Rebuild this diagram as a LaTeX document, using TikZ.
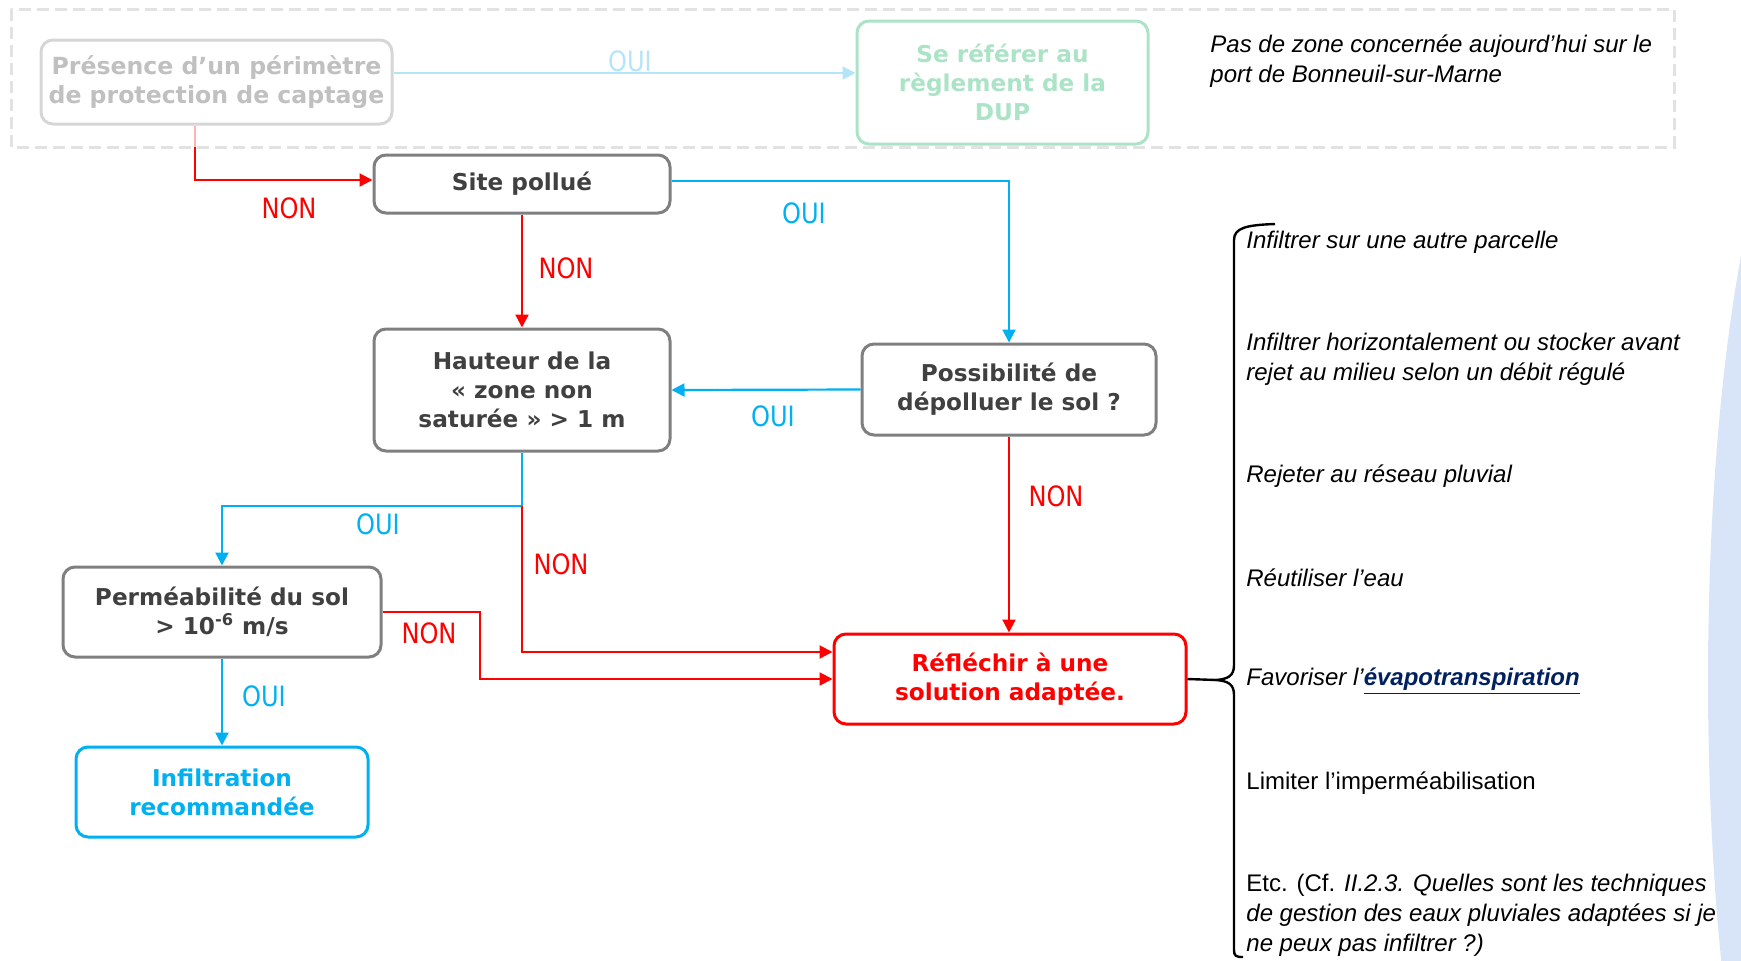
\documentclass[tikz,border=0pt]{standalone}
\usepackage{fontspec}
\setmainfont{Liberation Sans}
\newfontfamily\boxfont{DejaVu Sans}
\newfontfamily\lblfont[FakeStretch=0.86]{DejaVu Sans}
\usetikzlibrary{arrows.meta,calc}

\definecolor{boxgray}{HTML}{7F7F7F}
\definecolor{txtgray}{HTML}{404040}
\definecolor{oblue}{HTML}{00B0F0}
\definecolor{nred}{HTML}{FF0000}
\definecolor{fadegray}{HTML}{D6D6D6}
\definecolor{fadetext}{HTML}{C0C0C0}
\definecolor{fadegreen}{HTML}{ABE3C6}
\definecolor{fadeblue}{HTML}{B4E4F8}
\definecolor{fadered}{HTML}{FFB4B4}
\definecolor{navy}{HTML}{002060}
\definecolor{paleblue}{HTML}{D8E5F8}

\tikzset{
  box/.style={draw=boxgray, text=txtgray, line width=1.5pt, rounded corners=6pt,
    align=center, inner sep=2pt, font=\boxfont\bfseries\fontsize{11.6}{14.4}\selectfont},
  yes/.style={draw=oblue, line width=1.1pt, -{Triangle[length=6.5pt,width=6.5pt]}},
  no/.style={draw=nred, line width=1.1pt, -{Triangle[length=6.5pt,width=6.5pt]}},
  lbl/.style={font=\lblfont\fontsize{14}{16}\selectfont, inner sep=0pt},
  note/.style={font=\itshape\fontsize{12}{15}\selectfont, align=left, anchor=west, inner sep=0pt},
}

\begin{document}
\begin{tikzpicture}[x=0.5pt,y=-0.5pt]
  %%%%% START %%%%%
  \clip (0,0) rectangle (1741,960);
  \fill[paleblue] (1830,680) ellipse [x radius=61pt, y radius=310pt];

  % top zone (not concerned)
  \draw[fadegray!70, line width=1.5pt, dash pattern=on 6pt off 3pt] (11,9) rectangle (1674,147);
  \node[box, draw=fadegray, text=fadetext, minimum width=175.5pt, minimum height=42pt,
    font=\boxfont\bfseries\fontsize{11.8}{14.4}\selectfont] (pres) at (216.5,82)
    {Présence d’un périmètre\\de protection de captage};
  \node[box, draw=fadegreen, text=fadegreen, minimum width=145.5pt, minimum height=61.5pt] (dup) at (1002.5,82.5)
    {Se référer au\\règlement de la\\DUP};
  \node[note] (zonenote) at (1210,61.5) {Pas de zone concernée aujourd’hui sur le\\port de Bonneuil-sur-Marne};

  % decision boxes
  \node[box, minimum width=148pt, minimum height=29pt] (site) at (522,184) {Site pollué};
  \node[box, minimum width=148pt, minimum height=61pt] (haut) at (522,390)
    {Hauteur de la\\« zone non\\saturée » > 1 m};
  \node[box, minimum width=147pt, minimum height=45.5pt] (poss) at (1009,389.5)
    {Possibilité de\\dépolluer le sol ?};
  \node[box, minimum width=159pt, minimum height=45pt] (perm) at (222,612)
    {Perméabilité du sol\\> 10\textsuperscript{-6} m/s};
  \node[box, draw=oblue, text=oblue, minimum width=146pt, minimum height=45pt] (infil) at (222,792)
    {Infiltration\\recommandée};
  \node[box, draw=nred, text=nred, minimum width=176pt, minimum height=45pt] (refl) at (1010,679)
    {Réfléchir à une\\solution adaptée.};

  % helper points
  \coordinate (presN) at ([xshift=-10.75pt]pres.south);
  \coordinate (dashY) at (0,147);
  \coordinate (ouiY) at (0,506);
  \coordinate (bendX) at (480,0);
  \coordinate (tip) at (1216,680);

  % connectors
  \draw[fadeblue, line width=1.1pt, -{Triangle[length=6.5pt,width=6.5pt]}]
    ([yshift=4.5pt]pres.east) -- ([yshift=4.5pt]pres.east -| dup.west);
  \draw[fadered, line width=1.1pt] (presN) -- (presN |- dashY);
  \draw[no] (presN |- dashY) |- ([yshift=2pt]site.west);
  \draw[yes] ([yshift=1.5pt]site.east) -| (poss.north);
  \draw[no] (site.south) -- (haut.north);
  \draw[yes] (poss.west) -- (haut.east);
  \draw[yes] (haut.south) -- (haut.south |- ouiY) -| (perm.north);
  \draw[no] (haut.south |- ouiY) |- ([yshift=13.5pt]refl.west);
  \draw[no] (perm.east) -- (perm.east -| bendX) |- (refl.west);
  \draw[yes] (perm.south) -- (infil.north);
  \draw[no] (poss.south) -- (poss.south |- refl.north);
  \draw[line width=1.2pt] (refl.east) -- (tip);

  % labels
  \node[lbl, text=fadeblue] (l1) at (630,61) {OUI};
  \node[lbl, text=nred] (l2) at (289,208) {NON};
  \node[lbl, text=oblue] (l3) at (804,213) {OUI};
  \node[lbl, text=nred] (l4) at (566,268) {NON};
  \node[lbl, text=oblue] (l5) at (773,416) {OUI};
  \node[lbl, text=oblue] (l6) at (378,524) {OUI};
  \node[lbl, text=nred] (l7) at (561,564) {NON};
  \node[lbl, text=nred] (l8) at (429,633) {NON};
  \node[lbl, text=oblue] (l9) at (264,696) {OUI};
  \node[lbl, text=nred] (l10) at (1056,496) {NON};

  % brace and alternatives
  \draw[line width=1.2pt] (1275,224) .. controls (1246,225) and (1234,228) .. (1234,240)
    -- (1234,665) .. controls (1234,676) and (1228,679) .. (tip)
    .. controls (1228,681) and (1234,684) .. (1234,695)
    -- (1234,950) .. controls (1234,956) and (1236,957) .. (1243,957);
  \node[note] (alt1) at (1246,242) {Infiltrer sur une autre parcelle};
  \node[note] (alt2) at (1246,359) {Infiltrer horizontalement ou stocker avant\\rejet au milieu selon un débit régulé};
  \node[note] (alt3) at (1246,476) {Rejeter au réseau pluvial};
  \node[note] (alt4) at (1246,578) {Réutiliser l’eau};
  \node[note] (alt5) at (1246,681) {Favoriser l’\textbf{\textcolor{navy}{\underline{évapotranspiration}}}};
  \node[note, font=\upshape\fontsize{12}{15}\selectfont] (alt6) at (1246,783) {Limiter l’imperméabilisation};
  \node[note] (alt7) at (1246,915.5) {\upshape Etc. (Cf. \itshape II.2.3. Quelles sont les techniques\\de gestion des eaux pluviales adaptées si je\\ne peux pas infiltrer ?)};
  %%%%% END %%%%%
\end{tikzpicture}
\end{document}
